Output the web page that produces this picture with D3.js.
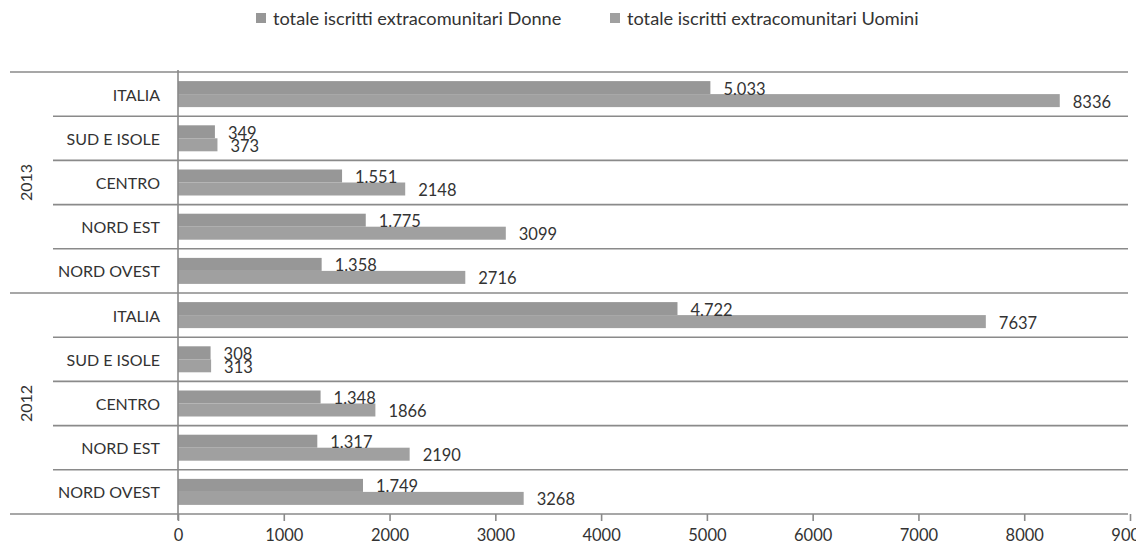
<!DOCTYPE html>
<html>
<head>
<meta charset="utf-8">
<script src="https://cdn.jsdelivr.net/npm/d3@7"></script>
<style>
  body { margin: 0; background: #fff; }
  svg { display: block; font-family: Lato, "Open Sans", sans-serif; }
</style>
</head>
<body>
<script>
// data
const years = ["2013", "2012"]
const regions = ["ITALIA", "SUD E ISOLE", "CENTRO", "NORD EST", "NORD OVEST"]
const seriesNames = ["totale iscritti extracomunitari Donne", "totale iscritti extracomunitari Uomini"]
const donne2013 = [5033, 349, 1551, 1775, 1358]
const uomini2013 = [8336, 373, 2148, 3099, 2716]
const donne2012 = [4722, 308, 1348, 1317, 1749]
const uomini2012 = [7637, 313, 1866, 2190, 3268]
const xTicks = [0, 1000, 2000, 3000, 4000, 5000, 6000, 7000, 8000, 9000]

const W = 1136, H = 546
const plotL = 178, plotR = 1130, plotT = 72, plotB = 514
const lineCol = "#8a8a8a"
const textCol = "#333"
const colors = ["#979797", "#a0a0a0"]

const rows = []
years.forEach(yr => {
  const d = yr == "2013" ? donne2013 : donne2012
  const u = yr == "2013" ? uomini2013 : uomini2012
  regions.forEach((r, i) => rows.push({ key: yr + "|" + r, year: yr, region: r, vals: [d[i], u[i]] }))
})

const svg = d3.select("body").append("svg")
  .attr("width", W)
  .attr("height", H)

const x = d3.scaleLinear().domain([0, 9000]).range([plotL, plotR])
const y = d3.scaleBand().domain(rows.map(r => r.key)).range([plotT, plotB])
const sub = d3.scaleBand().domain([0, 1]).range([0, y.bandwidth()]).paddingOuter(0.7)

// legend
const leg = svg.append("g").attr("font-size", 18.2).attr("fill", textCol)
const legX = [256, 610]
seriesNames.forEach((s, i) => {
  leg.append("rect")
    .attr("x", legX[i]).attr("y", 13)
    .attr("width", 10).attr("height", 10)
    .attr("fill", colors[i])
  leg.append("text")
    .attr("x", legX[i] + 17).attr("y", 18)
    .attr("dominant-baseline", "central")
    .text(s)
})

// separators between categories / years
const seps = svg.append("g").attr("stroke", lineCol).attr("stroke-width", 1.6)
rows.forEach((r, i) => {
  const yy = y(r.key)
  const isYear = i % regions.length == 0
  seps.append("line")
    .attr("x1", isYear ? 10 : 53).attr("x2", plotR - 2)
    .attr("y1", yy).attr("y2", yy)
})
seps.append("line")
  .attr("x1", 10).attr("x2", plotR - 2)
  .attr("y1", plotB).attr("y2", plotB)

// bars
const bars = svg.append("g")
rows.forEach(r => {
  r.vals.forEach((v, j) => {
    bars.append("rect")
      .attr("x", x(0))
      .attr("y", y(r.key) + sub(j))
      .attr("width", x(v) - x(0))
      .attr("height", sub.bandwidth())
      .attr("fill", colors[j])
  })
})

// value labels
const fmtDot = d3.formatLocale({ decimal: ",", thousands: ".", grouping: [3], currency: ["", ""] }).format(",d")
const labels = svg.append("g").attr("font-size", 16.5).attr("fill", textCol)
rows.forEach(r => {
  r.vals.forEach((v, j) => {
    labels.append("text")
      .attr("x", x(v) + 13)
      .attr("y", y(r.key) + sub(j) + sub.bandwidth() / 2 + 1)
      .attr("dominant-baseline", "central")
      .text(j == 0 ? fmtDot(v) : d3.format("d")(v))
  })
})

// category labels
const cat = svg.append("g").attr("font-size", 16).attr("fill", textCol)
rows.forEach(r => {
  cat.append("text")
    .attr("x", 160)
    .attr("y", y(r.key) + y.bandwidth() / 2)
    .attr("text-anchor", "end")
    .attr("dominant-baseline", "central")
    .text(r.region)
})
years.forEach(yr => {
  const rs = rows.filter(r => r.year == yr)
  const cy = (y(rs[0].key) + y(rs[rs.length - 1].key) + y.bandwidth()) / 2
  cat.append("text")
    .attr("transform", "translate(25," + cy + ") rotate(-90)")
    .attr("text-anchor", "middle")
    .attr("dominant-baseline", "central")
    .text(yr)
})

// vertical axis line
svg.append("line")
  .attr("x1", plotL).attr("x2", plotL)
  .attr("y1", plotT - 2).attr("y2", plotB + 6)
  .attr("stroke", lineCol).attr("stroke-width", 1.6)

// x axis
const xAxis = svg.append("g")
  .attr("transform", "translate(0," + plotB + ")")
  .call(d3.axisBottom(x).tickValues(xTicks).tickSize(7).tickPadding(8).tickFormat(d3.format("d")))
xAxis.select(".domain").remove()
xAxis.selectAll("line").attr("stroke", lineCol).attr("stroke-width", 1.6)
xAxis.selectAll("text")
  .attr("font-size", 16.5)
  .attr("font-family", "Lato, 'Open Sans', sans-serif")
  .attr("fill", textCol)
</script>
</body>
</html>
